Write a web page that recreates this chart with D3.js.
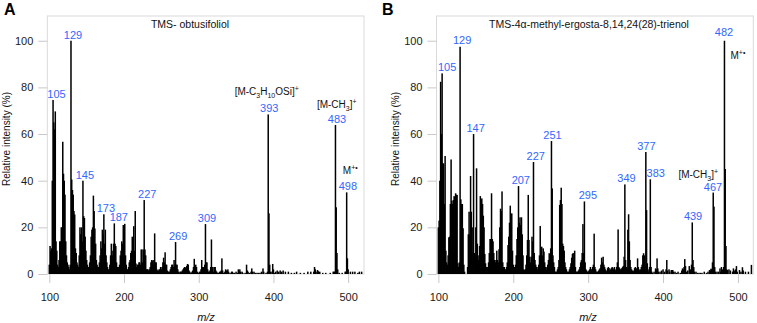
<!DOCTYPE html>
<html><head><meta charset="utf-8">
<script src="https://cdn.jsdelivr.net/npm/d3@7/dist/d3.min.js"></script>
<style>
body{margin:0;background:#fff}
svg{display:block}
text{font-family:"Liberation Sans",Arial,Helvetica,sans-serif}
</style>
</head><body>
<svg id="chart" width="757" height="323"></svg>
<script>
// ---------- DATA ----------
const xTickValues = [100, 200, 300, 400, 500];
const yTickValues = [0, 20, 40, 60, 80, 100];

const titleA = "TMS- obtusifoliol";
const titleB = "TMS-4\u03b1-methyl-ergosta-8,14,24(28)-trienol";

// [m/z, relative intensity %]
const spectrumA = [
[100,4],[101,12],[102,10],[103,11],[104,40],[105,74.6],[106,65],[107,62],[108,69.7],[109,14],
[110,10],[111,4],[112,3],[113,6],[114,14],[115,14],[116,20],[117,20],[118,56.7],[119,43],
[120,40],[121,34],[122,14],[123,8],[124,5],[125,4],[126,3],[127,2],[128,4],[129,100],
[130,40.5],[131,36],[132,34],[133,27],[134,25.5],[135,11],[136,9],[137,5],[138,4],[139,3],
[140,8],[141,20],[142,17],[143,20],[144,14],[145,40],[146,24.8],[147,24],[148,16],[149,10],
[150,6],[151,4],[152,3],[153,3],[154,5],[155,8],[156,16],[157,19],[158,20],[159,33.6],
[160,27],[161,19.5],[162,13],[163,6],[164,4],[165,3],[166,3],[167,5],[168,8],[169,14],
[170,11],[171,19],[172,17],[173,25.6],[174,13],[175,19],[176,8],[177,5],[178,3],[179,2],
[180,2],[181,4],[182,8],[183,13],[184,10],[185,8],[186,13],[187,21.7],[188,13],[189,12],
[190,5],[191,3],[192,2],[193,3],[194,4],[195,8],[196,10],[197,14],[198,13],[199,21],
[200,21],[201,21.5],[202,8],[203,4],[204,2],[205,2],[206,3],[207,5],[208,6],[209,9],
[210,10],[211,16],[212,14],[213,20.5],[214,10],[215,27],[216,4.5],[217,3],[218,4],[219,4],
[220,5],[221,5],[222,4],[223,10.5],[224,10.5],[225,5],[226,10.5],[227,31.7],[228,10.5],[229,8],
[230,2],[231,2],[232,2],[233,1.5],[234,2],[235,3],[236,5],[237,6],[238,5.5],[239,6],
[240,4],[241,17.4],[242,5],[243,5],[244,2],[245,1.5],[246,1.5],[247,2],[248,2],[249,3],
[250,2],[251,3],[252,5],[253,7],[254,5],[255,9.3],[256,4],[257,4],[258,1.5],[259,1],
[260,1],[261,1],[262,2],[263,3],[264,4],[265,4],[266,3],[267,6],[268,4],[269,13.7],
[270,4],[271,4],[272,2],[273,1],[274,0.5],[275,1],[276,1],[277,1],[278,1.5],[279,2],
[280,2.5],[281,3],[282,2.5],[283,3],[284,3.5],[285,4.3],[286,4],[287,1.5],[288,1],[289,0.5],
[290,0.5],[291,1],[292,1.5],[293,3],[294,6.5],[295,3],[296,4],[297,3],[298,1],[299,0.5],
[300,0.5],[301,1],[302,1],[303,2],[304,6],[305,3],[306,3],[307,2.5],[308,4],[309,21.4],
[310,5],[311,5],[312,2],[313,1],[314,1],[315,1.5],[316,3],[317,14.8],[318,3],[319,3],
[320,1],[321,3],[322,3],[323,1.5],[324,1],[325,0.5],[326,0.5],[327,0.5],[328,1],[329,1],
[330,1.5],[331,6.7],[332,1.5],[333,0.5],[334,0.5],[335,1],[336,2],[337,1.5],[338,1.5],[339,2],
[340,1],[342,0.5],[344,1],[345,1],[347,0.5],[348,0.5],[350,1],[352,0.5],[353,2],[354,1],
[355,2],[356,1],[358,1],[359,0.5],[362,0.5],[364,4],[365,1.5],[366,1],[368,0.5],[370,1],
[371,2.4],[372,1],[374,1],[376,0.5],[378,0.5],[380,0.5],[382,0.5],[384,1],[386,2.4],[387,1],
[390,0.5],[392,1],[393,68.4],[394,26],[395,4],[396,1],[398,1],[399,4.3],[400,2],[401,0.5],
[403,1],[405,1.5],[407,1],[409,1.5],[411,1],[413,1.5],[416,1],[420,1],[424,0.5],[428,0.5],
[431,1],[436,0.5],[441,0.5],[446,1],[450,1],[454,1],[455,3],[456,2],[457,1],[459,1.7],
[460,1.2],[462,1],[466,0.5],[470,0.5],[476,0.5],[480,1],[481,1],[482,1],[483,63.9],[484,28.6],
[485,9],[486,2],[488,0.5],[492,0.5],[496,1],[497,1],[498,35],[499,6.7],[500,2],[503,1],
[506,1],[509,1],[513,0.5],[515,1],[518,1]
];

const spectrumB = [
[100,20],[101,22.9],[102,40],[103,82.4],[104,60],[105,86],[106,47.4],[107,47.4],[108,30],[109,50.6],
[110,10],[111,5],[112,4],[113,8],[114,15.7],[115,16],[116,30],[117,49.1],[118,31.4],[119,30],
[120,31.7],[121,33.4],[122,33],[123,34.6],[124,34],[125,33.9],[126,4.6],[127,3],[128,5],[129,97.4],
[130,32],[131,30],[132,30],[133,19.6],[134,4],[135,1],[139,3],
[140,17],[141,26.7],[142,17],[143,42],[144,26.7],[145,9],[146,20],[147,60],[148,9],[149,8],
[150,20],[151,45.3],[152,13],[153,8],[154,6],[155,12],[156,33.4],[157,31.7],[158,32.4],[159,30],
[160,25],[161,20],[162,8.6],[163,4.6],[164,3],[165,2],[166,3],[167,5],[168,9],[169,15],
[170,15],[171,34.6],[172,15],[173,14],[174,9],[175,6],[176,5],[177,6],[178,10],[179,6],
[180,5],[181,10.6],[182,20],[183,28],[184,27],[185,35.4],[186,5],[187,3],[188,3],[189,2],
[190,2],[191,3],[192,5],[193,12.4],[194,16],[195,22],[196,29.3],[197,20],[198,26],[199,10],
[200,4],[201,2],[202,3],[203,4],[204,8],[205,15],[206,20],[207,37.7],[208,22],[209,24.3],
[210,21],[211,24.3],[212,17],[213,8],[214,2],[215,1.7],[216,2],[217,4],[218,8],[219,14.6],
[220,33.9],[221,14.6],[222,7.4],[223,5],[224,7.4],[225,16],[226,14],[227,48],[228,9],[229,6],
[230,4],[231,3],[232,2],[233,3],[234,4],[235,8],[236,20.6],[237,9],[238,11.7],[239,8],
[240,11],[241,9.6],[242,5],[243,3],[244,2],[245,3],[246,4],[247,6],[248,8.9],[249,7],
[250,11],[251,57],[252,36.7],[253,8],[254,5],[255,3],[256,1],[257,1],[258,1],[259,2],
[260,3],[261,6],[262,29.6],[263,31.7],[264,37],[265,30],[266,13],[267,12],[268,10],[269,5],
[270,3],[271,2],[272,1],[273,1],[274,1],[275,2],[276,3],[277,4.6],[278,7],[279,8.6],
[280,9],[281,6],[282,10],[283,3],[284,1],[285,1],[286,1],[287,1.5],[288,2],[289,3],
[290,5],[291,6],[292,9],[293,21.4],[294,9],[295,31.1],[296,5],[297,2],[298,1.5],[299,1],
[300,1],[301,1.5],[302,2],[303,3],[304,2],[305,2],[306,3],[307,4],[308,17.3],[309,3],
[310,2],[311,1],[312,1],[313,1],[314,1.5],[315,2],[316,2.5],[317,4],[318,7],[319,5],
[320,7.4],[321,4],[322,3],[323,2],[324,1],[325,1.5],[326,2.5],[327,3],[328,2.5],[329,1.5],
[330,2],[331,2.5],[332,3],[333,2.5],[334,2],[335,3],[336,2],[337,1.5],[338,3],[339,5],
[340,19.1],[341,3],[342,2.5],[343,2],[344,2],[345,2.5],[346,3],[347,3.5],[348,7.4],[349,38.4],
[350,6],[351,3],[352,2.5],[353,19],[354,25.6],[355,14],[356,6],[357,3],[358,2],[359,1.5],
[360,1],[361,1.5],[362,2.5],[363,3],[364,2],[365,2.5],[366,6.7],[367,3],[368,2],[369,1.5],
[370,2],[371,3],[372,4],[373,8],[374,8.9],[375,8],[376,4],[377,52.3],[378,27.4],[379,4.6],
[380,2],[381,1],[382,3],[383,40.6],[384,3],[385,1],[386,0.5],[388,1],[390,2.4],[391,2],
[392,6.7],[393,2.4],[394,1],[396,1],[398,1.5],[400,2],[402,1],[404,2],[405,6],[406,1.5],
[408,2],[409,1],[411,1.7],[412,1.7],[413,1.7],[414,1],[416,1],[418,0.5],[420,1],[423,0.5],
[425,1.5],[426,2.4],[427,2],[428,3],[429,6.4],[430,3.4],[431,1],[433,1.5],[435,3.4],[436,1],
[437,2],[438,4],[439,22.1],[440,6],[441,3],[442,1],[444,1],[446,0.5],[448,0.5],[450,0.5],
[452,0.5],[455,1],[458,0.5],[460,1],[462,1.7],[463,1.5],[464,2.3],[465,2],[466,5],[467,34.9],
[468,28.9],[469,3],[470,1],[472,1],[474,1],[476,2.4],[477,1],[478,3],[479,2],[480,1],
[481,3],[482,100],[483,45],[484,12],[485,2],[486,1.7],[488,2],[490,1.5],[493,1],[494,2.4],
[495,1.5],[497,2],[498,3.4],[499,1],[502,1.7],[504,1],[506,2.9],[507,1.5],[510,1],[514,1],
[518,3.9]
];

// labelled peaks (m/z)
const peakLabelsA = [105, 129, 145, 173, 187, 227, 269, 309, 393, 483, 498];
const peakLabelsB = [105, 129, 147, 207, 227, 251, 295, 349, 377, 383, 439, 467, 482];

// ion annotations: parts are [text, kind] with kind "", "sub" or "sup"
const ionNotesA = [
  {mz: 393, parts: [["[M-C",""],["3","sub"],["H",""],["10","sub"],["OSi]",""],["+","sup"]]},
  {mz: 483, parts: [["[M-CH",""],["3","sub"],["]",""],["+","sup"]]},
  {mz: 498, parts: [["M",""],["+\u2022","sup"]]}
];
const ionNotesB = [
  {mz: 467, parts: [["[M-CH",""],["3","sub"],["]",""],["+","sup"]]},
  {mz: 482, parts: [["M",""],["+\u2022","sup"]]}
];

// ---------- LAYOUT ----------
const layout = {
  A: {letterX: 4, box: {l: 47.3, r: 364, t: 16, b: 274}, xDomain: [97.3, 521.2],
      titleX: 190, yTitleX: 9.5, xTitleX: 206,
      labelNudge: {105: [3.5,0], 129: [2,0], 145: [2,0], 173: [2,0], 187: [4.5,0], 227: [3,0],
                   269: [2.5,0], 309: [1.5,0], 393: [1,0], 483: [1.5,0], 498: [1.2,0]},
      ionNudge: {393: [-1.5,-19], 483: [1.3,-16.5], 498: [3.6,-18]}},
  B: {letterX: 382, box: {l: 436.5, r: 753.3, t: 16, b: 274}, xDomain: [97.5, 520.5],
      titleX: 589, yTitleX: 399, xTitleX: 588,
      labelNudge: {105: [5,0], 129: [2,-1], 147: [2,0], 207: [2.3,0], 227: [2.3,0], 251: [1,0],
                   295: [3.5,0], 349: [1.6,0], 377: [0.6,0], 383: [5.4,0], 439: [0.8,0],
                   467: [-0.2,0], 482: [-0.5,-3]},
      ionNudge: {467: [-15,-14.5], 482: [13.5,18]}}
};

const svg = d3.select("#chart");
const BLUE = "#3366ff";

// text with sub/superscript parts; dy values undo the previous shift
function richText(sel, parts, size) {
  let shift = 0;
  parts.forEach(([t, kind]) => {
    const want = kind === "sub" ? size * 0.28 : kind === "sup" ? -size * 0.4 : 0;
    const ts = sel.append("tspan").text(t).attr("dy", want - shift);
    if (kind) ts.attr("font-size", size * 0.7);
    shift = want;
  });
}

function drawPanel(key, data, labels, ions, title) {
  const L = layout[key];
  const B = L.box;
  const g = svg.append("g");
  const x = d3.scaleLinear().domain(L.xDomain).range([B.l, B.r]);
  const y = d3.scaleLinear().domain([0, 110.6]).range([B.b, B.t]);

  // frame
  g.append("rect").attr("x", B.l).attr("y", B.t).attr("width", B.r - B.l).attr("height", B.b - B.t)
    .attr("fill", "none").attr("stroke", "#dadada").attr("stroke-width", 1);

  // axes
  const xa = g.append("g").attr("transform", `translate(0,${B.b})`)
    .call(d3.axisBottom(x).tickValues(xTickValues).tickSize(9).tickPadding(10).tickFormat(d3.format("d")));
  const ya = g.append("g").attr("transform", `translate(${B.l},0)`)
    .call(d3.axisLeft(y).tickValues(yTickValues).tickSize(9).tickPadding(5).tickFormat(d3.format("d")));
  [xa, ya].forEach(a => {
    a.select(".domain").remove();
    a.selectAll(".tick line").attr("stroke", "#c8c8c8");
    a.selectAll(".tick text").attr("fill", "#1a1a1a").attr("font-size", 11)
      .attr("font-family", '"Liberation Sans",Arial,sans-serif');
  });

  // bars
  g.append("g").selectAll("rect").data(data).join("rect")
    .attr("x", d => x(d[0]) - 0.75).attr("width", 1.5)
    .attr("y", d => y(d[1])).attr("height", d => y(0) - y(d[1]))
    .attr("fill", "#000");

  const lookup = new Map(data);

  // peak labels
  g.append("g").selectAll("text").data(labels).join("text")
    .attr("x", d => x(d) + (L.labelNudge[d] || [0,0])[0])
    .attr("y", d => y(lookup.get(d)) - 2 + (L.labelNudge[d] || [0,0])[1])
    .attr("text-anchor", "middle").attr("font-size", 11).attr("fill", BLUE)
    .text(d => d);

  // ion notes
  ions.forEach(n => {
    const nd = L.ionNudge[n.mz];
    const t = g.append("text")
      .attr("x", x(n.mz) + nd[0]).attr("y", y(lookup.get(n.mz)) + nd[1])
      .attr("text-anchor", "middle").attr("font-size", 10).attr("fill", "#111");
    richText(t, n.parts, 10);
  });

  // titles
  g.append("text").attr("x", L.titleX).attr("y", 28).attr("text-anchor", "middle")
    .attr("font-size", 10.5).attr("fill", "#111").text(title);
  g.append("text").attr("x", L.letterX).attr("y", 15).attr("font-size", 16)
    .attr("font-weight", "bold").attr("fill", "#000").text(key);
  g.append("text").attr("transform", `translate(${L.yTitleX},139) rotate(-90)`)
    .attr("text-anchor", "middle").attr("font-size", 10).attr("fill", "#111")
    .text("Relative intensity (%)");
  g.append("text").attr("x", L.xTitleX).attr("y", 320.5).attr("text-anchor", "middle")
    .attr("font-size", 11).attr("font-style", "italic").attr("fill", "#111").text("m/z");
}

drawPanel("A", spectrumA, peakLabelsA, ionNotesA, titleA);
drawPanel("B", spectrumB, peakLabelsB, ionNotesB, titleB);
</script>
</body></html>
